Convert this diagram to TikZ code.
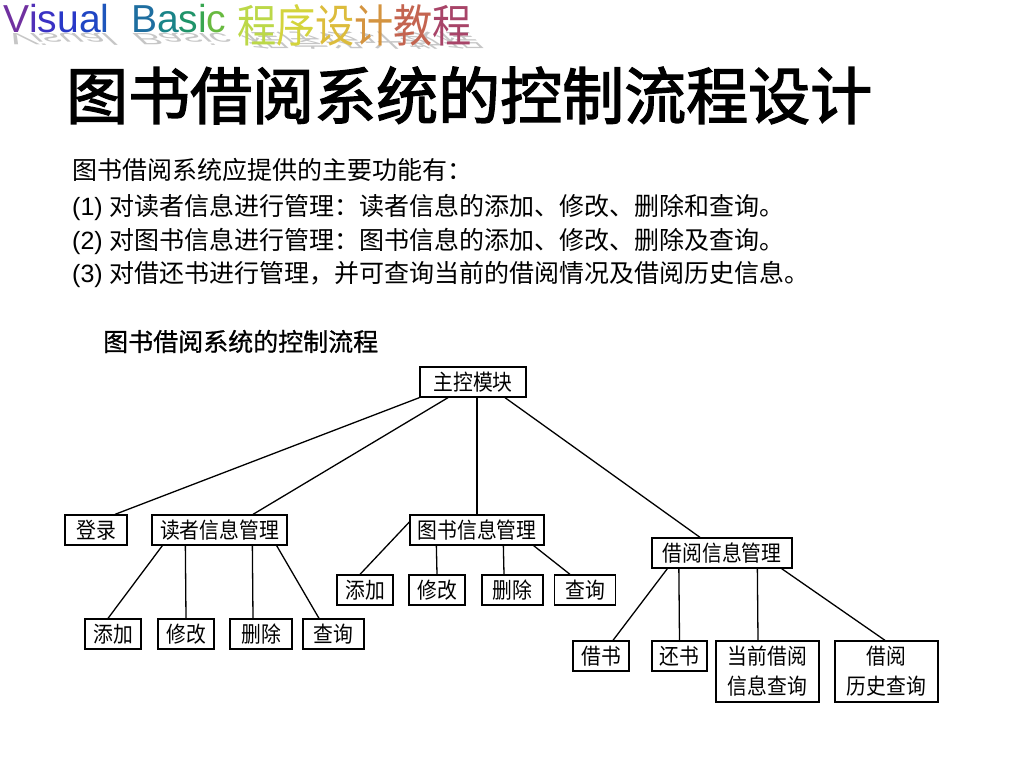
\documentclass[tikz,border=0pt]{standalone}
\usepackage{fontspec}
\setmainfont{Liberation Sans}
\newfontfamily\cjk{Noto Sans CJK SC}
\newfontfamily\cjkhdr[FakeStretch=0.87]{Noto Sans CJK SC}
\newfontfamily\cjkbox[FakeStretch=0.9]{Noto Sans CJK SC}
\newfontfamily\cjktitle[FakeBold=2.2]{Noto Sans CJK SC}
\newfontfamily\cjksub[FakeBold=0.8]{Noto Sans CJK SC}
\definecolor{hV}{HTML}{7030A0}
\definecolor{hi}{HTML}{5030B8}
\definecolor{hs}{HTML}{3A32C4}
\definecolor{hu}{HTML}{2838C8}
\definecolor{ha}{HTML}{2046C4}
\definecolor{hl}{HTML}{1E56BC}
\definecolor{hB}{HTML}{1E6EA0}
\definecolor{hA}{HTML}{1A8488}
\definecolor{hS}{HTML}{20946A}
\definecolor{hI}{HTML}{38A650}
\definecolor{hC}{HTML}{68BA40}
\definecolor{hc1}{HTML}{BCD848}
\definecolor{hc2}{HTML}{D4D43C}
\definecolor{hc3}{HTML}{DCBC3C}
\definecolor{hc4}{HTML}{D49440}
\definecolor{hc5}{HTML}{C46450}
\definecolor{hc6}{HTML}{A84468}
\begin{document}
\begin{tikzpicture}[x=1pt,y=-1pt,
  box/.style={draw,line width=1.3pt,inner sep=0pt,minimum height=30pt,align=center,
    font=\cjkbox\fontsize{22}{30}\selectfont},
  link/.style={line width=1.3pt},
  body/.style={anchor=base west,inner sep=0pt,font=\fontsize{25}{30}\selectfont},
  hdrlat/.style={anchor=base west,inner sep=0pt,font=\fontsize{39}{39}\selectfont},
  hdrcjk/.style={anchor=base west,inner sep=0pt,font=\cjkhdr\fontsize{45}{45}\selectfont}]
\path[use as bounding box,fill=white] (0,0) rectangle (1024,768);

% header reflection (grey)
\begin{scope}[shift={(2,34)},yscale=-0.42,xslant=0.45]
  \node[transform shape,hdrlat,text=gray!45] (hshadowA) at (0,0) {Visual\ \ Basic};
  \node[transform shape,hdrcjk,text=gray!45] (hshadowB) at (235,0) {程序设计教程};
\end{scope}
% header
\node[hdrlat] (hdrA) at (3,33) {\textcolor{hV}{V}\textcolor{hi}{i}\textcolor{hs}{s}\textcolor{hu}{u}\textcolor{ha}{a}\textcolor{hl}{l}\ \ \textcolor{hB}{B}\textcolor{hA}{a}\textcolor{hS}{s}\textcolor{hI}{i}\textcolor{hC}{c}};
\node[hdrcjk] (hdrB) at (237,42) {\textcolor{hc1}{程}\textcolor{hc2}{序}\textcolor{hc3}{设}\textcolor{hc4}{计}\textcolor{hc5}{教}\textcolor{hc6}{程}};

% title
\node[anchor=base west,inner sep=0pt,font=\cjktitle\fontsize{62}{62}\selectfont] (title) at (66,119) {图书借阅系统的控制流程设计};

% body text
\node[body] (t1) at (72,179) {\cjk 图书借阅系统应提供的主要功能有：};
\node[body] (t2) at (72,215) {(1) {\cjk 对读者信息进行管理：读者信息的添加、修改、删除和查询。}};
\node[body] (t3) at (72,249) {(2) {\cjk 对图书信息进行管理：图书信息的添加、修改、删除及查询。}};
\node[body] (t4) at (72,282) {(3) {\cjk 对借还书进行管理，并可查询当前的借阅情况及借阅历史信息。}};
\node[body,font=\cjksub\fontsize{25}{30}\selectfont] (sub) at (103,351) {图书借阅系统的控制流程};

% tree nodes
\node[box,minimum width=106pt] (main) at (473,382) {主控模块};
\node[box,minimum width=62pt] (login) at (96,530) {登录};
\node[box,minimum width=135pt] (reader) at (219.5,530) {读者信息管理};
\node[box,minimum width=134pt] (book) at (477,530) {图书信息管理};
\node[box,minimum width=140pt] (borrow) at (722,553) {借阅信息管理};

\node[box,minimum width=56pt] (r1) at (113,634) {添加};
\node[box,minimum width=56pt] (r2) at (186,634) {修改};
\node[box,minimum width=62pt] (r3) at (261,634) {删除};
\node[box,minimum width=61pt] (r4) at (333.5,634) {查询};

\node[box,minimum width=56pt] (b1) at (365,590) {添加};
\node[box,minimum width=56pt] (b2) at (437,590) {修改};
\node[box,minimum width=61pt] (b3) at (512.5,590) {删除};
\node[box,minimum width=61pt] (b4) at (585,590) {查询};

\node[box,minimum width=56pt] (w1) at (601,656) {借书};
\node[box,minimum width=55pt] (w2) at (679.5,656) {还书};
\node[box,minimum width=103pt,minimum height=61pt] (w3) at (767.5,671.5) {当前借阅\\信息查询};
\node[box,minimum width=103pt,minimum height=61pt] (w4) at (886.5,671.5) {借阅\\历史查询};

% connectors
\draw[link] (main.south west) -- ([xshift=19pt]login.north);
\draw[link] ([xshift=-25pt]main.south) -- ([xshift=33.5pt]reader.north);
\draw[link] ([xshift=4pt]main.south) -- (book.north);
\draw[link] ([xshift=32pt]main.south) -- ([xshift=-22pt]borrow.north);

\draw[link] ([xshift=11pt]reader.south west) -- ([xshift=-5pt]r1.north);
\draw[link] ([xshift=34pt]reader.south west) -- (r2.north);
\draw[link] ([xshift=101pt]reader.south west) -- ([xshift=-8pt]r3.north);
\draw[link] ([xshift=-11pt]reader.south east) -- ([xshift=-14.5pt]r4.north);

\draw[link] ([yshift=8pt]book.west) -- ([xshift=-5pt]b1.north);
\draw[link] ([xshift=27pt]book.south west) -- (b2.north);
\draw[link] ([xshift=94pt]book.south west) -- ([xshift=-8.5pt]b3.north);
\draw[link] ([xshift=-11pt]book.south east) -- ([xshift=-15pt]b4.north);

\draw[link] ([xshift=16pt]borrow.south west) -- ([xshift=12pt]w1.north);
\draw[link] ([xshift=27.5pt]borrow.south west) -- (w2.north);
\draw[link] ([xshift=106pt]borrow.south west) -- ([xshift=-9.5pt]w3.north);
\draw[link] ([xshift=-11pt]borrow.south east) -- ([xshift=-1.5pt]w4.north);
\end{tikzpicture}
\end{document}
